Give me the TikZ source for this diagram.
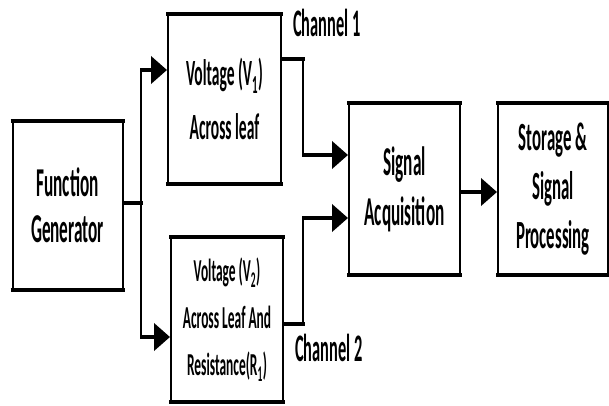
\documentclass[tikz,border=0pt]{standalone}
\usepackage{fontspec}
\newfontfamily\lbl[FakeStretch=0.42]{Carlito}
\usetikzlibrary{arrows.meta}
\begin{document}
\begin{tikzpicture}[x=1pt,y=-1pt,
  blk/.style={draw=black, line width=2pt, fill=white, inner sep=0pt, align=center},
  hl/.style={line width=4pt, line cap=rect},
  vl/.style={line width=2pt, line cap=rect},
  arr/.style={line width=4pt, -{Triangle[length=16pt,width=27pt]}},
  chlabel/.style={anchor=base west, inner sep=0pt, font={\lbl\bfseries\fontsize{39}{44}\selectfont}}
]
\useasboundingbox (0,0) rectangle (609,405);
% blocks
\node[blk, minimum width=110pt, minimum height=167pt,
      font={\lbl\bfseries\fontsize{41}{46}\selectfont}] (fg) at (67.5,205.5) {Function\\Generator};
\node[blk, minimum width=113pt, minimum height=168pt,
      font={\lbl\bfseries\fontsize{37}{54}\selectfont}] (v1) at (224.5,99) {\raisebox{0pt}{Voltage (V\textsubscript{1})}\\Across leaf};
\node[blk, minimum width=112pt, minimum height=163pt,
      font={\lbl\bfseries\fontsize{32}{47}\selectfont}] (v2) at (227,319.5) {Voltage (V\textsubscript{2})\\Across Leaf And\\Resistance(R\textsubscript{1})};
\node[blk, minimum width=111pt, minimum height=170pt,
      font={\lbl\bfseries\fontsize{41}{50}\selectfont}] (sa) at (404.5,189) {Signal\\Acquisition};
\node[blk, minimum width=110pt, minimum height=170pt,
      font={\lbl\bfseries\fontsize{40}{49}\selectfont}] (sp) at (553,189) {Storage \&\\Signal\\Processing};
% thick top and bottom edges
\foreach \n in {fg,v1,v2,sa,sp}{
  \draw[line width=4.5pt] ([xshift=-1pt]\n.north west) -- ([xshift=1pt]\n.north east);
  \draw[line width=4.5pt] ([xshift=-1pt]\n.south west) -- ([xshift=1pt]\n.south east);
}
% connection points
\coordinate (split) at (141,203);
\coordinate (v1in) at (v1.west |- 0,70);
\coordinate (v2in) at (v2.west |- 0,337);
\coordinate (v1out) at (v1.east |- 0,59);
\coordinate (v2out) at (v2.east |- 0,324);
\coordinate (sain1) at (sa.west |- 0,155);
\coordinate (sain2) at (sa.west |- 0,218);
\coordinate (bus) at (303,0);
% connectors
\draw[hl] (fg.east |- split) -- (split);
\draw[vl] (split |- v1in) -- (split |- v2in);
\draw[arr] ([xshift=-1pt]split |- v1in) -- (v1in);
\draw[arr] ([xshift=-1pt]split |- v2in) -- (v2in);
\draw[hl] (v1out) -- (bus |- v1out);
\draw[vl] (bus |- v1out) -- (bus |- sain1);
\draw[arr] ([xshift=-1pt]bus |- sain1) -- (sain1);
\draw[hl] (v2out) -- (bus |- v2out);
\draw[vl] (bus |- v2out) -- (bus |- sain2);
\draw[arr] ([xshift=-1pt]bus |- sain2) -- (sain2);
\draw[arr] (sa.east |- 0,192) -- (sp.west |- 0,192);
% labels
\node[chlabel] (ch1) at (293,36) {Channel 1};
\node[chlabel] (ch2) at (295,361) {Channel 2};
\end{tikzpicture}
\end{document}
